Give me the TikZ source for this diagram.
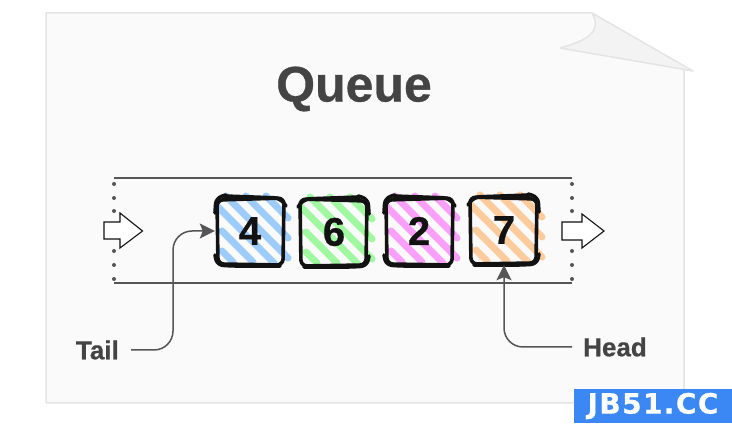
\documentclass[tikz,border=0pt]{standalone}
\usepackage{xcolor}
\usepackage{fontspec}
\setmainfont[BoldFeatures={FakeBold=0.6}]{Liberation Sans}
\newfontfamily\badgefont[LetterSpace=5, BoldFeatures={FakeBold=0.6}]{DejaVu Sans}
\usetikzlibrary{arrows.meta, positioning}
\definecolor{pagefill}{RGB}{250,250,250}
\definecolor{pageedge}{RGB}{228,228,228}
\definecolor{foldfill}{RGB}{243,243,243}
\definecolor{inkgray}{RGB}{68,68,68}
\definecolor{linegray}{RGB}{85,85,85}
\definecolor{sketchink}{RGB}{18,18,18}
\definecolor{hatchblue}{RGB}{158,204,250}
\definecolor{hatchgreen}{RGB}{160,248,160}
\definecolor{hatchpink}{RGB}{250,160,250}
\definecolor{hatchorange}{RGB}{253,203,156}
\definecolor{badgeblue}{RGB}{59,136,245}

\tikzset{
  sheet/.style={draw=pageedge, line width=1.5pt, line join=round},
  rail/.style={draw=linegray, line width=1.4pt},
  flow/.style={draw=sketchink, fill=white, line width=1.1pt, line join=miter},
  hatch/.style={line width=7pt, line cap=round},
  sketch/.style={draw=sketchink, line width=3.6pt, line cap=round, line join=round, rounded corners=6pt},
  cell/.style={minimum size=70pt, inner sep=0pt, text=sketchink,
               font=\fontsize{40}{40}\selectfont\bfseries},
  tag/.style={text=inkgray, inner sep=0pt, font=\fontsize{26}{26}\selectfont\bfseries},
  conn/.style={draw=linegray, line width=1.5pt, rounded corners=19pt,
               -{Stealth[length=15pt, width=15pt, inset=3pt]}}
}

% one queue cell: name, x, y, hatch colour, digit, flip of the outline
\newcommand{\sketchcell}[6]{
  \begin{scope}[shift={(#2,#3)}]
    \foreach \xa/\ya/\xb/\yb in {-28/20/-17/31, -28/0/3/31, -33/-25/24/32, -24/-35/38/27,
                                 -4/-35/38/7, 16/-35/38/-13}
      \draw[hatch, #4] (\xa,\ya) -- (\xb,\yb);
    \begin{scope}[xscale=#6]
      \draw[sketch] (-33,-31) -- (-32,33) -- (33,34) -- (34,-33) -- cycle;
      \draw[sketch] (-26,-35) -- (30,-33) -- (36,-25);
      \draw[sketch] (-35,-18) -- (-34,-33) -- (-24,-36);
      \draw[sketch] (-35,24) -- (-33,34) -- (-18,35) -- (30,35);
    \end{scope}
  \end{scope}
  \node[cell] (#1) at (#2,#3) {#5};
}

\begin{document}
\begin{tikzpicture}[x=1pt, y=-1pt]
\useasboundingbox (0,0) rectangle (732,443);

% paper sheet with the curled corner
\draw[sheet, fill=pagefill] (46,13) -- (592,13) -- (684,68) -- (684,403) -- (46,403) -- cycle;
\draw[sheet, fill=foldfill] (592,13) .. controls (602,30) and (590,40) .. (560,48) -- (693,71) -- cycle;

\node[text=inkgray, font=\fontsize{50}{50}\selectfont\bfseries] (title) at (354,89) {Queue};

% queue walls and open ends
\draw[rail] (114,178) -- (572,178);
\draw[rail] (114,283) -- (572,283);
\foreach \y in {184,198,211,251,265,279} {
  \fill[linegray] (114,\y) circle (2);
  \fill[linegray] (572,\y) circle (2);
}

% flow direction
\draw[flow] (104,222) -- (120,222) -- (120,213) -- (142.5,231) -- (120,248) -- (120,239) -- (104,239) -- cycle;
\draw[flow] (562,222) -- (582,222) -- (582,214) -- (604,231) -- (582,248) -- (582,240) -- (562,240) -- cycle;

\sketchcell{cellfour}{250}{231}{hatchblue}{4}{1}
\sketchcell{cellsix}{334}{232}{hatchgreen}{6}{-1}
\sketchcell{celltwo}{419}{231}{hatchpink}{2}{1}
\sketchcell{cellseven}{504}{230}{hatchorange}{7}{-1}

\node[tag, anchor=east] (tail) at (119,350) {Tail};
\node[tag, anchor=west] (head) at (583,347) {Head};

\coordinate[right=12pt of tail.east] (tailstart);
\coordinate[left=11pt of head.west] (headstart);
\draw[conn] (tailstart) -- ++(42,0) |- (cellfour.west);
\draw[conn] (headstart) -| (cellseven.south);

% site badge
\node[fill=badgeblue, text=white, minimum width=158pt, minimum height=34pt, inner sep=0pt,
      font=\badgefont\fontsize{28}{28}\selectfont\bfseries] (badge) at (653,406) {JB51.CC};
\end{tikzpicture}
\end{document}
